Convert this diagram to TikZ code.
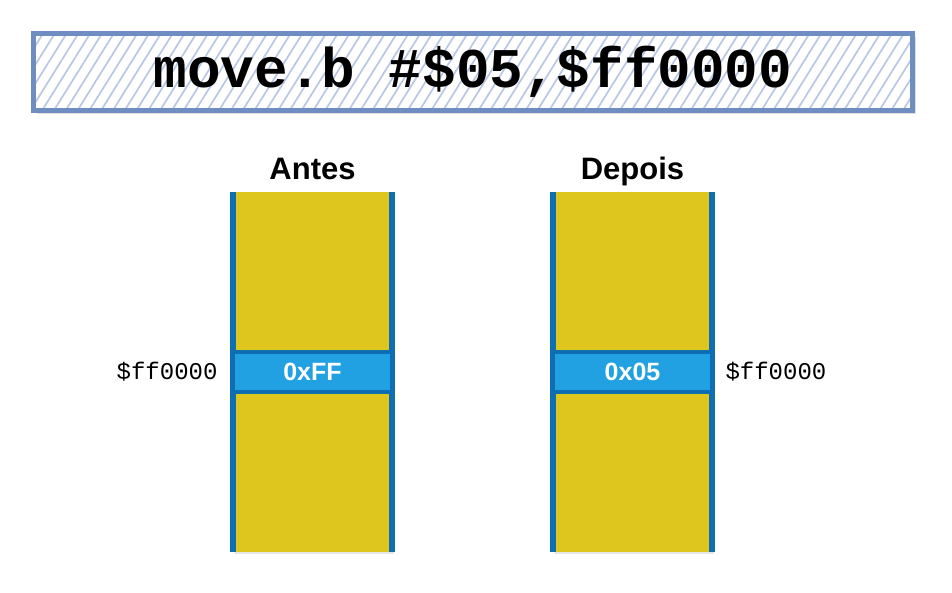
\documentclass[tikz,border=0pt]{standalone}
\usepackage{fontspec}
\usepackage{tikz}
\usetikzlibrary{patterns.meta,shadows,positioning}
\newfontfamily\codefont{Liberation Mono}
\newfontfamily\labelfont{Liberation Sans}
\definecolor{TitleBlue}{HTML}{6E8EC2}
\definecolor{HatchBlue}{HTML}{B9C7E5}
\definecolor{MemYellow}{HTML}{DEC61F}
\definecolor{MemEdge}{HTML}{0E6EB2}
\definecolor{CellBlue}{HTML}{21A1E1}

\tikzset{
  memcol/.style={fill=MemYellow,minimum width=159pt,minimum height=360pt,inner sep=0pt,
    drop shadow={opacity=.2,shadow xshift=2pt,shadow yshift=-2pt}},
  memcell/.style={fill=CellBlue,draw=MemEdge,line width=4pt,minimum width=159pt,minimum height=40pt,
    inner sep=0pt,text=white,font=\labelfont\bfseries\fontsize{25}{28}\selectfont},
  header/.style={font=\labelfont\bfseries\fontsize{31}{34}\selectfont,text height=23pt,text depth=7pt,inner sep=0pt},
  addr/.style={font=\codefont\fontsize{24}{26}\selectfont}
}

\begin{document}
\begin{tikzpicture}[x=1pt,y=-1pt]
  \useasboundingbox (0,0) rectangle (952,593);
  % instruction
  \node[drop shadow={opacity=.25,shadow xshift=3pt,shadow yshift=-4pt},
    preaction={fill=white},draw=TitleBlue,line width=5pt,minimum width=879pt,minimum height=77pt,
    pattern={Lines[angle=58,distance=10pt,line width=1.7pt]},pattern color=HatchBlue,
    font=\codefont\bfseries\fontsize{56}{60}\selectfont] (instr) at (473,72) {move.b \#\$05,\$ff0000};
  % before
  \node[memcol] (before) at (312.5,372) {};
  \draw[MemEdge,line width=6pt] (before.north west) -- (before.south west)
    (before.north east) -- (before.south east);
  \node[memcell] (oldval) at (312.5,372) {0xFF};
  \node[header,above=5pt of before] (antes) {Antes};
  \node[addr,left=10pt of oldval] (addrl) {\$ff0000};
  % after
  \node[memcol] (after) at (632.5,372) {};
  \draw[MemEdge,line width=6pt] (after.north west) -- (after.south west)
    (after.north east) -- (after.south east);
  \node[memcell] (newval) at (632.5,372) {0x05};
  \node[header,above=5pt of after] (depois) {Depois};
  \node[addr,right=8pt of newval] (addrr) {\$ff0000};
\end{tikzpicture}
\end{document}
